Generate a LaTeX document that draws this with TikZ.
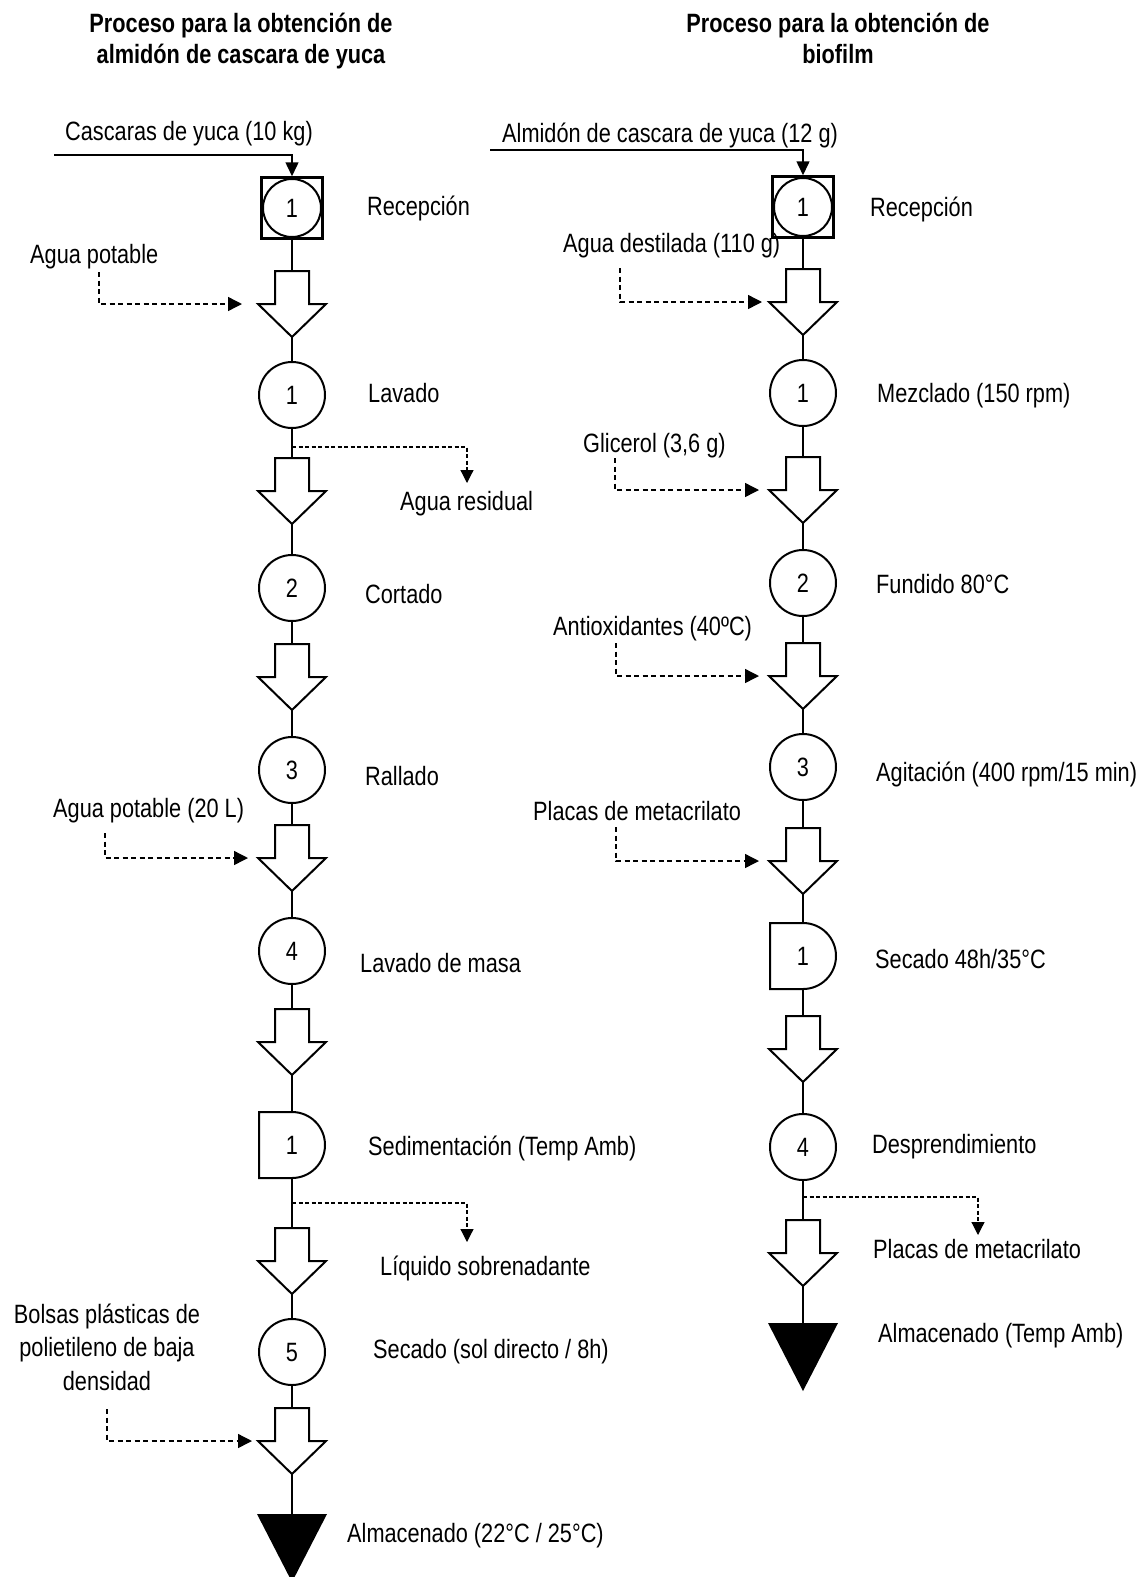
\documentclass[tikz,border=0pt]{standalone}
\usepackage{fontspec}
\setmainfont{Liberation Sans}[FakeStretch=0.82]
\usetikzlibrary{arrows.meta}
\tikzset{
  flow/.style={line width=2pt},
  dashline/.style={line width=1.4pt, dash pattern=on 5pt off 3.5pt, -{Triangle[length=14pt,width=14pt]}},
  dashdown/.style={line width=1.2pt, dash pattern=on 4pt off 2.5pt, -{Triangle[length=13pt,width=13pt]}},
  inarrow/.style={line width=1.5pt, -{Triangle[length=14pt,width=13pt]}},
  opcircle/.style={circle, draw, line width=2pt, minimum size=66pt, inner sep=0pt},
  sqbox/.style={rectangle, draw, line width=2.5pt, minimum size=61pt, inner sep=0pt},
  ghost/.style={rectangle, draw=none, inner sep=0pt, outer sep=0pt},
  lbl/.style={anchor=base west, inner sep=0pt},
  title/.style={anchor=base, text width=420pt, align=flush center, inner sep=0pt, font=\fontsize{26.5pt}{31pt}\selectfont\bfseries},
  multi/.style={anchor=base, text width=250pt, align=flush center, inner sep=0pt, font=\fontsize{26.5pt}{33.5pt}\selectfont},
}
\newcommand\BArrow[2]{%
  \node[ghost, minimum width=68pt, minimum height=66pt] (#1) at (#2) {};
  \draw[flow, line join=miter] ([xshift=-17pt]#1.north) -- ([xshift=-17pt]#1.center) -- (#1.west) -- (#1.south) -- (#1.east) -- ([xshift=17pt]#1.center) -- ([xshift=17pt]#1.north) -- cycle;}
\newcommand\DShape[3]{%
  \node[ghost, minimum width=66pt, minimum height=66pt] (#1) at (#2) {#3};
  \draw[flow] (#1.north west) -- (#1.north) arc[start angle=90, end angle=-90, radius=33pt] -- (#1.south west) -- cycle;}
\newcommand\StoreTri[2]{%
  \node[ghost, minimum width=70pt, minimum height=68pt] (#1) at (#2) {};
  \fill (#1.north west) -- (#1.north east) -- (#1.south) -- cycle;}
\begin{document}
\begin{tikzpicture}[x=1pt,y=-1pt, every node/.style={font=\fontsize{26.5pt}{31pt}\selectfont}]
\useasboundingbox (0,0) rectangle (1146,1577);
% ---------------- LEFT ----------------
\node[title] (Lt) at (241,32) {Proceso para la obtención de\\almidón de cascara de yuca};
\node[lbl] (Linl) at (65,140) {Cascaras de yuca (10 kg)};
\coordinate (Lin) at (54,155);
\node[sqbox] (L0) at (292,208) {};
\node[opcircle, minimum size=58pt] (L0c) at (292,208) {1};
\draw[inarrow] (Lin) -| (L0.north);
\node[lbl] (L0l) at (367,215) {Recepción};
\node[lbl] (Lw1) at (30,263) {Agua potable};
\BArrow{LA1}{292,304}
\draw[flow] (L0) -- (LA1);
\coordinate (Ld1) at (99,272);
\draw[dashline] (Ld1) |- ([xshift=-16pt]LA1.west);
\node[opcircle] (L1) at (292,395) {1};
\draw[flow] (LA1) -- (L1);
\node[lbl] (L1l) at (368,402) {Lavado};
\BArrow{LA2}{292,491}
\draw[flow] (L1) -- (LA2);
\coordinate (Lb1) at (292,447);
\coordinate (Lb1e) at (467,483);
\draw[dashdown] (Lb1) -| (Lb1e);
\node[lbl] (Lr1) at (400,510) {Agua residual};
\node[opcircle] (L2) at (292,588) {2};
\draw[flow] (LA2) -- (L2);
\node[lbl] (L2l) at (365,603) {Cortado};
\BArrow{LA3}{292,677}
\draw[flow] (L2) -- (LA3);
\node[opcircle] (L3) at (292,770) {3};
\draw[flow] (LA3) -- (L3);
\node[lbl] (L3l) at (365,785) {Rallado};
\node[lbl] (Lw2) at (53,817) {Agua potable (20 L)};
\BArrow{LA4}{292,858}
\draw[flow] (L3) -- (LA4);
\coordinate (Ld2) at (105,833);
\draw[dashline] (Ld2) |- ([xshift=-10pt]LA4.west);
\node[opcircle] (L4) at (292,951) {4};
\draw[flow] (LA4) -- (L4);
\node[lbl] (L4l) at (360,972) {Lavado de masa};
\BArrow{LA5}{292,1042}
\draw[flow] (L4) -- (LA5);
\DShape{L5}{292,1145}{1}
\draw[flow] (LA5) -- (L5);
\node[lbl] (L5l) at (368,1155) {Sedimentación (Temp Amb)};
\coordinate (Lb2) at (292,1203);
\coordinate (Lb2e) at (467,1242);
\draw[dashdown] (Lb2) -| (Lb2e);
\node[lbl] (Lr2) at (380,1275) {Líquido sobrenadante};
\BArrow{LA6}{292,1261}
\draw[flow] (L5) -- (LA6);
\node[opcircle] (L6) at (292,1352) {5};
\draw[flow] (LA6) -- (L6);
\node[lbl] (L6l) at (373,1358) {Secado (sol directo / 8h)};
\node[multi] (Lw3) at (107,1323) {Bolsas plásticas de\\polietileno de baja\\densidad};
\BArrow{LA7}{292,1441}
\draw[flow] (L6) -- (LA7);
\coordinate (Ld3) at (107,1409);
\draw[dashline] (Ld3) |- ([xshift=-6pt]LA7.west);
\StoreTri{L7}{292,1548}
\draw[flow] (LA7) -- (L7);
\node[lbl] (L7l) at (347,1542) {Almacenado (22°C / 25°C)};
% ---------------- RIGHT ----------------
\node[title] (Rt) at (838,32) {Proceso para la obtención de\\biofilm};
\node[lbl] (Rinl) at (502,142) {Almidón de cascara de yuca (12 g)};
\coordinate (Rin) at (490,150);
\node[sqbox] (R0) at (803,207) {};
\node[opcircle, minimum size=58pt] (R0c) at (803,207) {1};
\draw[inarrow] (Rin) -| (R0.north);
\node[lbl] (R0l) at (870,216) {Recepción};
\node[lbl] (Rw1) at (563,252) {Agua destilada (110 g)};
\BArrow{RA1}{803,302}
\draw[flow] (R0) -- (RA1);
\coordinate (Rd1) at (620,268);
\draw[dashline] (Rd1) |- ([xshift=-7pt]RA1.west);
\node[opcircle] (R1) at (803,393) {1};
\draw[flow] (RA1) -- (R1);
\node[lbl] (R1l) at (877,402) {Mezclado (150 rpm)};
\node[lbl] (Rw2) at (583,452) {Glicerol (3,6 g)};
\BArrow{RA2}{803,490}
\draw[flow] (R1) -- (RA2);
\coordinate (Rd2) at (615,458);
\draw[dashline] (Rd2) |- ([xshift=-10pt]RA2.west);
\node[opcircle] (R2) at (803,583) {2};
\draw[flow] (RA2) -- (R2);
\node[lbl] (R2l) at (876,593) {Fundido 80°C};
\node[lbl] (Rw3) at (553,635) {Antioxidantes (40ºC)};
\BArrow{RA3}{803,676}
\draw[flow] (R2) -- (RA3);
\coordinate (Rd3) at (616,643);
\draw[dashline] (Rd3) |- ([xshift=-10pt]RA3.west);
\node[opcircle] (R3) at (803,767) {3};
\draw[flow] (RA3) -- (R3);
\node[lbl] (R3l) at (876,781) {Agitación (400 rpm/15 min)};
\node[lbl] (Rw4) at (533,820) {Placas de metacrilato};
\BArrow{RA4}{803,861}
\draw[flow] (R3) -- (RA4);
\coordinate (Rd4) at (616,827);
\draw[dashline] (Rd4) |- ([xshift=-10pt]RA4.west);
\DShape{R4}{803,956}{1}
\draw[flow] (RA4) -- (R4);
\node[lbl] (R4l) at (875,968) {Secado 48h/35°C};
\BArrow{RA5}{803,1049}
\draw[flow] (R4) -- (RA5);
\node[opcircle] (R5) at (803,1147) {4};
\draw[flow] (RA5) -- (R5);
\node[lbl] (R5l) at (872,1153) {Desprendimiento};
\coordinate (Rb1) at (803,1197);
\coordinate (Rb1e) at (978,1235);
\draw[dashdown] (Rb1) -| (Rb1e);
\node[lbl] (Rr1) at (873,1258) {Placas de metacrilato};
\BArrow{RA6}{803,1253}
\draw[flow] (R5) -- (RA6);
\StoreTri{R6}{803,1357}
\draw[flow] (RA6) -- (R6);
\node[lbl] (R6l) at (878,1342) {Almacenado (Temp Amb)};
\end{tikzpicture}
\end{document}
